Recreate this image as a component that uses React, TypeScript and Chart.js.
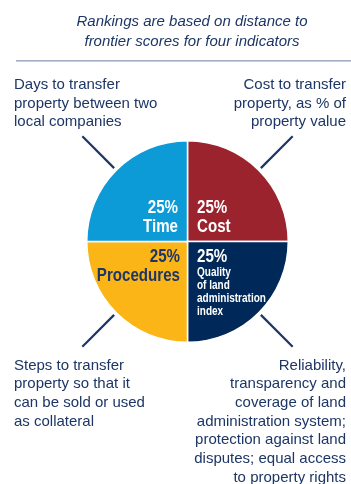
import React, { useEffect, useRef } from "react";
import { Chart, registerables } from "chart.js";

Chart.register(...registerables);

const categories = ["Cost", "Quality of land administration index", "Procedures", "Time"];
const shortNames = [["Cost"], ["Quality", "of land", "administration", "index"], ["Procedures"], ["Time"]];
const shares = [25, 25, 25, 25];
const sliceColors = ["#9a232e", "#00295a", "#fbb517", "#0d9bd8"];
const labelColors = ["#ffffff", "#ffffff", "#1d3665", "#ffffff"];

const titleLines = ["Rankings are based on distance to", "frontier scores for four indicators"];
const descCost = ["Cost to transfer", "property, as % of", "property value"];
const descQuality = [
  "Reliability,",
  "transparency and",
  "coverage of land",
  "administration system;",
  "protection against land",
  "disputes; equal access",
  "to property rights",
];
const descProcedures = ["Steps to transfer", "property so that it", "can be sold or used", "as collateral"];
const descTime = ["Days to transfer", "property between two", "local companies"];
const descriptions = [descCost, descQuality, descProcedures, descTime];

const NAVY = "#1d3665";
const SANS = '"Liberation Sans", Arial, sans-serif';

function narrowText(ctx: CanvasRenderingContext2D, text: string, x: number, y: number, s: number) {
  ctx.save();
  ctx.translate(x, y);
  ctx.scale(s, 1);
  ctx.fillText(text, 0, 0);
  ctx.restore();
}

const annotationPlugin = {
  id: "annotations",
  afterDraw(chart: any) {
    const ctx = chart.ctx as CanvasRenderingContext2D;
    const W = chart.width;
    const meta = chart.getDatasetMeta(0);
    const arc0 = meta.data[0] as any;
    const cx = arc0.x;
    const cy = arc0.y;
    const r = arc0.outerRadius;
    ctx.save();

    // title
    ctx.fillStyle = NAVY;
    ctx.font = `italic 15px ${SANS}`;
    ctx.textAlign = "center";
    ctx.textBaseline = "alphabetic";
    titleLines.forEach((t, i) => ctx.fillText(t, 192, 26 + i * 19.5));

    // separator
    ctx.fillStyle = "#a2aec4";
    ctx.fillRect(16, 60, W - 16, 1.6);

    meta.data.forEach((arc: any, i: number) => {
      const mid = (arc.startAngle + arc.endAngle) / 2;
      const right = Math.cos(mid) > 0;
      const upper = Math.sin(mid) < 0;
      const dx = Math.cos(mid);
      const dy = Math.sin(mid);

      // connector
      ctx.strokeStyle = NAVY;
      ctx.lineWidth = 2.2;
      ctx.beginPath();
      ctx.moveTo(cx + dx * (r + 3), cy + dy * (r + 3));
      ctx.lineTo(cx + dx * (r + 48), cy + dy * (r + 48));
      ctx.stroke();

      // inner labels
      ctx.fillStyle = labelColors[i];
      ctx.textBaseline = "middle";
      ctx.textAlign = right ? "left" : "right";
      const x = right ? cx + 9.5 : cx - (upper ? 9.5 : 7.5);
      const pct = `${shares[i]}%`;
      const names = shortNames[i];
      ctx.font = `bold 18px ${SANS}`;
      if (upper) {
        narrowText(ctx, pct, x, cy - 33.5, 0.84);
        narrowText(ctx, names[0], x, cy - 14.5, 0.84);
      } else {
        narrowText(ctx, pct, x, cy + 15.5, 0.84);
        if (names.length === 1) {
          narrowText(ctx, names[0], x, cy + 35, 0.84);
        } else {
          ctx.font = `bold 12.5px ${SANS}`;
          names.forEach((n, k) => narrowText(ctx, n, x, cy + 31.5 + k * 12.7, 0.8));
        }
      }

      // descriptions
      ctx.fillStyle = NAVY;
      ctx.font = `15px ${SANS}`;
      ctx.textBaseline = "alphabetic";
      ctx.textAlign = right ? "right" : "left";
      const tx = right ? W - 5 : 14;
      const lines = descriptions[i];
      const y0 = upper ? 89 : 369.5;
      lines.forEach((l, k) => ctx.fillText(l, tx, y0 + k * 18.7));
    });

    ctx.restore();
  },
};

export default function App() {
  const ref = useRef<HTMLCanvasElement | null>(null);
  useEffect(() => {
    document.body.style.margin = "0";
    const chart = new Chart(ref.current as HTMLCanvasElement, {
      type: "pie",
      data: {
        labels: categories,
        datasets: [
          {
            data: shares,
            backgroundColor: sliceColors,
            borderColor: "#ffffff",
            borderWidth: 1.5,
            hoverOffset: 0,
          },
        ],
      },
      options: {
        responsive: false,
        animation: false,
        layout: { padding: { left: 86, right: 62, top: 140, bottom: 141 } },
        plugins: {
          legend: { display: false },
          tooltip: { enabled: false },
          title: { display: false },
        },
      },
      plugins: [annotationPlugin],
    });
    return () => chart.destroy();
  }, []);
  return (
    <div style={{ width: 351, height: 484 }}>
      <canvas ref={ref} width={351} height={484} />
    </div>
  );
}
